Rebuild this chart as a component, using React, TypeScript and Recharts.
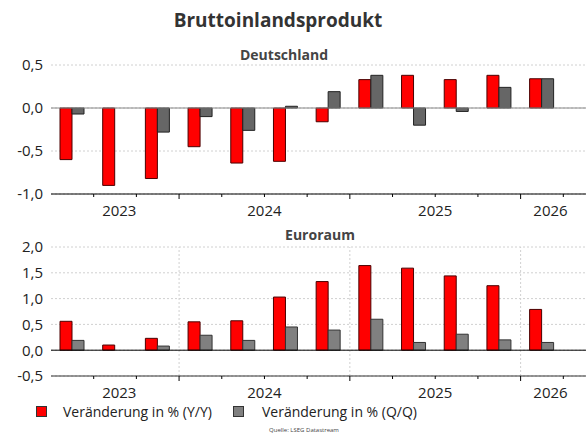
import { BarChart, Bar, XAxis, YAxis, CartesianGrid, ReferenceLine } from 'recharts';

// quarters shown on the axis (last one is an empty slot, cut off at the right edge)
const quarters = [
  'Q2 2023', 'Q3 2023', 'Q4 2023',
  'Q1 2024', 'Q2 2024', 'Q3 2024', 'Q4 2024',
  'Q1 2025', 'Q2 2025', 'Q3 2025', 'Q4 2025',
  'Q1 2026', 'Q2 2026',
];

const deYoY = [-0.6, -0.9, -0.82, -0.45, -0.64, -0.62, -0.16, 0.33, 0.38, 0.33, 0.38, 0.34, null];
const deQoQ = [-0.07, 0.0, -0.28, -0.1, -0.26, 0.02, 0.19, 0.38, -0.2, -0.04, 0.24, 0.34, null];

const euYoY = [0.56, 0.1, 0.23, 0.55, 0.57, 1.03, 1.33, 1.64, 1.59, 1.44, 1.25, 0.79, null];
const euQoQ = [0.19, 0.0, 0.08, 0.29, 0.19, 0.45, 0.39, 0.6, 0.15, 0.31, 0.2, 0.15, null];

const deTicks = [-1, -0.5, 0, 0.5];
const euTicks = [-0.5, 0, 0.5, 1, 1.5, 2];

// year labels, placed in quarter units along the axis
const yearLabels = [
  { year: '2023', pos: 1.1 },
  { year: '2024', pos: 4.5 },
  { year: '2025', pos: 8.5 },
  { year: '2026', pos: 11.2 },
];

const CHART_W = 606;
const Y_W = 51;
const BAND = (CHART_W - Y_W) / quarters.length;
const FONT = '"Open Sans", "DejaVu Sans", sans-serif';

const deData = quarters.map((q, i) => ({ q, yoy: deYoY[i], qoq: deQoQ[i] }));
const euData = quarters.map((q, i) => ({ q, yoy: euYoY[i], qoq: euQoQ[i] }));

const fmt = (v: number) => v.toFixed(1).replace('.', ',');

const YearTick = (props: any) => {
  const { x, y, payload } = props;
  const i = payload.index ?? props.index;
  const half = payload.offset || BAND / 2;
  const major = quarters[i].startsWith('Q1');
  const label = yearLabels.find((l) => Math.floor(l.pos) === i);
  return (
    <g>
      {i > 0 && (
        <line x1={x - half} x2={x - half} y1={y} y2={y + (major ? 5 : 3)} stroke="#000" />
      )}
      {label && (
        <text
          x={x + (label.pos - i) * half * 2}
          y={y + 22}
          textAnchor="middle"
          fontSize={15}
          fontFamily={FONT}
          fill="#222"
        >
          {label.year}
        </text>
      )}
    </g>
  );
};

const txt = (fs: number, bold = false, color = '#222') => ({
  position: 'absolute' as const,
  fontFamily: FONT,
  fontSize: fs,
  fontWeight: bold ? 700 : 400,
  lineHeight: 1,
  color,
  whiteSpace: 'nowrap' as const,
});

export default function App() {
  return (
    <div
      style={{
        position: 'absolute',
        left: 0,
        top: 0,
        width: 586,
        height: 434,
        overflow: 'hidden',
        background: '#fff',
        fontFamily: FONT,
      }}
    >
      <div style={{ ...txt(19, true, '#333'), left: 278, top: 11, transform: 'translateX(-50%)' }}>
        Bruttoinlandsprodukt
      </div>
      <div style={{ ...txt(14, true, '#444'), left: 284, top: 47.6, transform: 'translateX(-50%)' }}>
        Deutschland
      </div>

      <div style={{ position: 'absolute', left: 0, top: 55 }}>
        <BarChart
          width={CHART_W}
          height={169}
          data={deData}
          margin={{ top: 10, right: 0, bottom: 0, left: 0 }}
          barGap={0}
          barSize={12}
        >
          <CartesianGrid vertical={false} stroke="#d0d0d0" strokeDasharray="2 2" />
          <XAxis
            dataKey="q"
            height={30}
            interval={0}
            tickLine={false}
            tickSize={0}
            tickMargin={0}
            axisLine={{ stroke: '#000' }}
            tick={<YearTick />}
          />
          <YAxis
            width={Y_W}
            domain={[-1, 0.5]}
            ticks={deTicks}
            axisLine={false}
            tickLine={false}
            tickFormatter={fmt}
            tick={{ fill: '#222', fontSize: 15, fontFamily: FONT }}
          />
          <ReferenceLine y={0} stroke="#888" />
          <Bar dataKey="yoy" fill="#ff0000" stroke="#4a0000" isAnimationActive={false} />
          <Bar dataKey="qoq" fill="#666666" stroke="#222" isAnimationActive={false} />
        </BarChart>
      </div>

      <div style={{ ...txt(14, true, '#444'), left: 320, top: 227.6, transform: 'translateX(-50%)' }}>
        Euroraum
      </div>

      <div style={{ position: 'absolute', left: 0, top: 237 }}>
        <BarChart
          width={CHART_W}
          height={167}
          data={euData}
          margin={{ top: 10, right: 0, bottom: 0, left: 0 }}
          barGap={0}
          barSize={12}
        >
          <CartesianGrid vertical={false} stroke="#d0d0d0" strokeDasharray="2 2" />
          <XAxis
            dataKey="q"
            height={28}
            interval={0}
            tickLine={false}
            tickSize={0}
            tickMargin={0}
            axisLine={{ stroke: '#333' }}
            tick={<YearTick />}
          />
          <YAxis
            width={Y_W}
            domain={[-0.5, 2]}
            ticks={euTicks}
            axisLine={false}
            tickLine={false}
            tickFormatter={fmt}
            tick={{ fill: '#222', fontSize: 15, fontFamily: FONT }}
          />
          {quarters
            .filter((q) => q.startsWith('Q1'))
            .map((q) => (
              <ReferenceLine key={q} x={q} position="start" stroke="#d0d0d0" strokeDasharray="2 2" />
            ))}
          <ReferenceLine y={0} stroke="#000" />
          <Bar dataKey="yoy" fill="#ff0000" stroke="#4a0000" isAnimationActive={false} />
          <Bar dataKey="qoq" fill="#808080" stroke="#333" isAnimationActive={false} />
        </BarChart>
      </div>

      <div
        style={{
          position: 'absolute',
          left: 36,
          top: 406,
          width: 9,
          height: 9,
          background: '#ff0000',
          border: '1px solid #333',
        }}
      />
      <div style={{ ...txt(14), left: 63, top: 404.5 }}>Veränderung in % (Y/Y)</div>
      <div
        style={{
          position: 'absolute',
          left: 233,
          top: 406,
          width: 9,
          height: 9,
          background: '#808080',
          border: '1px solid #333',
        }}
      />
      <div style={{ ...txt(14), left: 262, top: 404.5 }}>Veränderung in % (Q/Q)</div>
      <div style={{ ...txt(6, false, '#444'), left: 304, top: 427, transform: 'translateX(-50%)' }}>
        Quelle: LSEG Datastream
      </div>
    </div>
  );
}
